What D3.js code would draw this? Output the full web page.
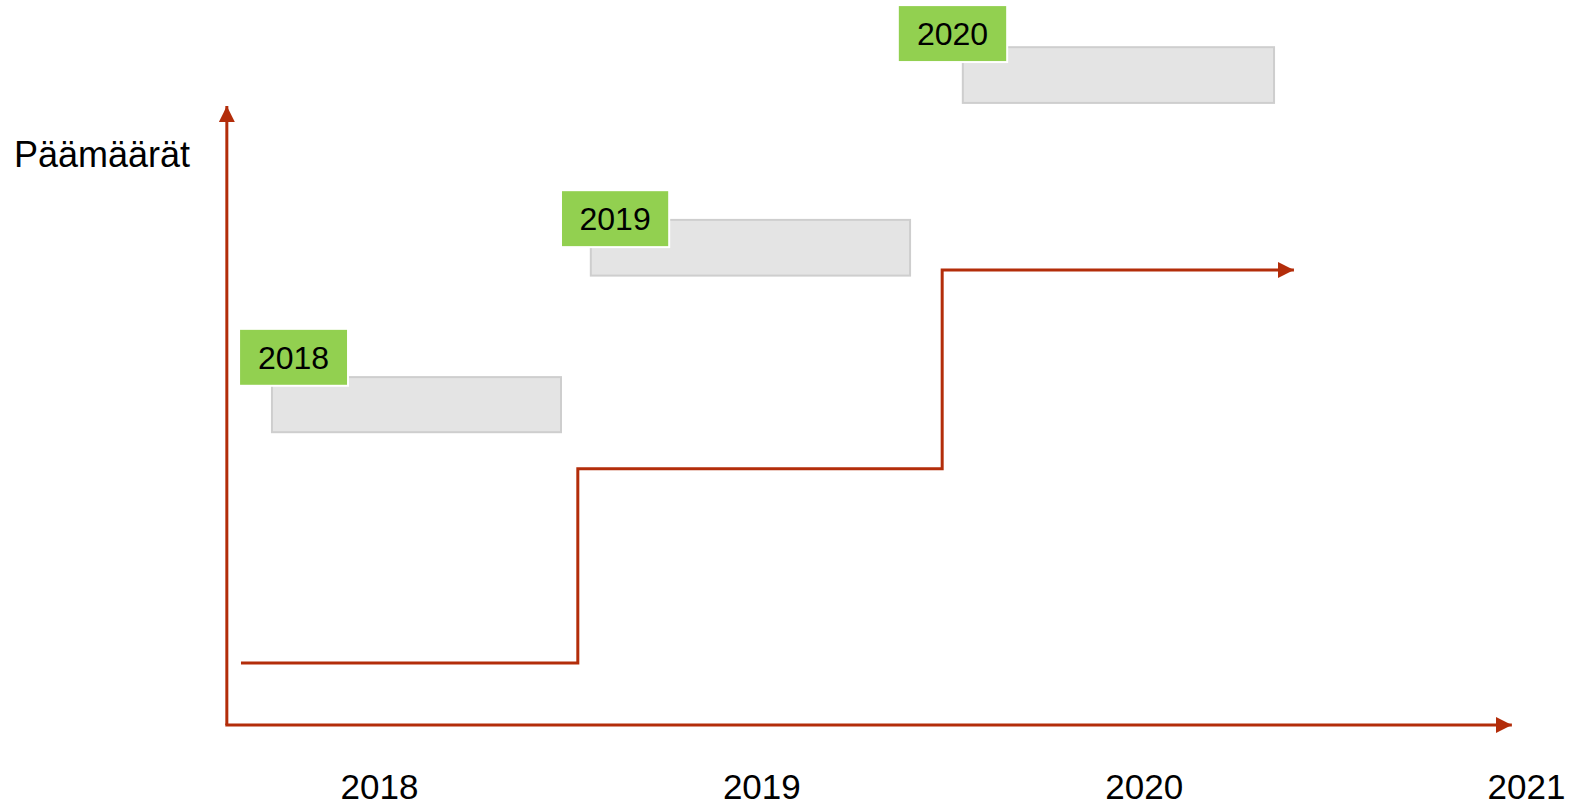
<html>
<head>
<style>
body { margin: 0; background: #fff; }
svg text { font-family: "Liberation Sans", Arial, sans-serif; fill: #000; }
.x.axis path, .x.axis line { display: none; }
</style>
</head>
<script src="https://d3js.org/d3.v7.min.js"></script>
<body>
<div id="chart"></div>
<script>

var width = 1581, height = 807;

// tick labels on the time axis
var years = [2018, 2019, 2020, 2021];

// goal boxes (time in years, height in level units 0..100)
var goalNames = ["2018", "2019", "2020"];
var goalStart = [2017.720, 2018.554, 2019.527];
var goalEnd = [2018.476, 2019.389, 2020.341];
var goalTop = [56.2, 81.6, 109.5];
var goalBottom = [47.3, 72.6, 100.5];

// green year tags over the boxes
var tagStart = [2017.634, 2018.476, 2019.357];
var tagEnd = [2017.919, 2018.759, 2019.643];
var tagTop = [64.0, 86.4, 116.3];
var tagBottom = [54.8, 77.2, 107.1];

// step line
var stepYears = [2017.639, 2018.520, 2019.473, 2020.393];
var stepLevels = [10.0, 41.4, 73.5, 73.5];

// axes extent
var axisStart = 2017.602, axisEnd = 2020.963;
var levelMin = 0, levelMax = 100;

var red = "#b32d0a";

var x = d3.scaleLinear().domain([2018, 2021]).range([379, 1526]);
var y = d3.scaleLinear().domain([levelMin, levelMax]).range([725, 106]);

var svg = d3.select("#chart").append("svg")
    .attr("width", width)
    .attr("height", height);

var defs = svg.append("defs");
defs.append("marker")
    .attr("id", "arrow")
    .attr("markerUnits", "userSpaceOnUse")
    .attr("viewBox", "0 0 16 16")
    .attr("refX", 16)
    .attr("refY", 8)
    .attr("markerWidth", 16)
    .attr("markerHeight", 16)
    .attr("orient", "auto")
  .append("path")
    .attr("d", "M0,0L16,8L0,16Z")
    .style("fill", red);

// goal boxes
var goals = goalNames.map(function(d, i) {
  return {name: d, x0: goalStart[i], x1: goalEnd[i], top: goalTop[i], bottom: goalBottom[i],
          tx0: tagStart[i], tx1: tagEnd[i], ttop: tagTop[i], tbottom: tagBottom[i]};
});

svg.selectAll(".box")
    .data(goals)
    .enter()
    .append("rect")
      .attr("class", "box")
      .attr("x", function(d) { return x(d.x0); })
      .attr("y", function(d) { return y(d.top); })
      .attr("width", function(d) { return x(d.x1) - x(d.x0); })
      .attr("height", function(d) { return y(d.bottom) - y(d.top); })
      .style("fill", "#e4e4e4")
      .style("stroke", "#cecece")
      .style("stroke-width", 2);

var tag = svg.selectAll(".tag")
    .data(goals)
    .enter()
    .append("g")
      .attr("class", "tag");

tag.append("rect")
    .attr("x", function(d) { return x(d.tx0); })
    .attr("y", function(d) { return y(d.ttop); })
    .attr("width", function(d) { return x(d.tx1) - x(d.tx0); })
    .attr("height", function(d) { return y(d.tbottom) - y(d.ttop); })
    .style("fill", "#92d050")
    .style("stroke", "#fff")
    .style("stroke-width", 2);

tag.append("text")
    .attr("x", function(d) { return (x(d.tx0) + x(d.tx1)) / 2; })
    .attr("y", function(d) { return (y(d.ttop) + y(d.tbottom)) / 2; })
    .attr("dy", ".36em")
    .style("text-anchor", "middle")
    .style("font-size", "32px")
    .text(function(d) { return d.name; });

// axes with arrows
svg.append("line")
    .attr("x1", x(axisStart)).attr("y1", y(levelMin))
    .attr("x2", x(axisStart)).attr("y2", y(levelMax))
    .style("stroke", red).style("stroke-width", 3)
    .attr("marker-end", "url(#arrow)");

svg.append("line")
    .attr("x1", x(axisStart) - 1.5).attr("y1", y(levelMin))
    .attr("x2", x(axisEnd)).attr("y2", y(levelMin))
    .style("stroke", red).style("stroke-width", 3)
    .attr("marker-end", "url(#arrow)");

// step line
var line = d3.line()
    .x(function(d) { return x(d[0]); })
    .y(function(d) { return y(d[1]); })
    .curve(d3.curveStepAfter);

svg.append("path")
    .datum(stepYears.map(function(d, i) { return [d, stepLevels[i]]; }))
    .attr("d", line)
    .style("fill", "none")
    .style("stroke", red)
    .style("stroke-width", 3)
    .attr("marker-end", "url(#arrow)");

// year labels
var xAxis = d3.axisBottom(x)
    .tickValues(years)
    .tickFormat(d3.format("d"))
    .tickSize(0)
    .tickPadding(0);

svg.append("g")
    .attr("class", "x axis")
    .attr("transform", "translate(0,799)")
    .call(xAxis)
  .selectAll("text")
    .attr("y", 0)
    .attr("dy", 0)
    .style("font-size", "35px")
    .style("font-family", "'Liberation Sans', Arial, sans-serif")
    .style("fill", "#000");

svg.append("text")
    .attr("x", 14)
    .attr("y", 167)
    .style("font-size", "36px")
    .text("Päämäärät");

</script>
</body>
</html>
